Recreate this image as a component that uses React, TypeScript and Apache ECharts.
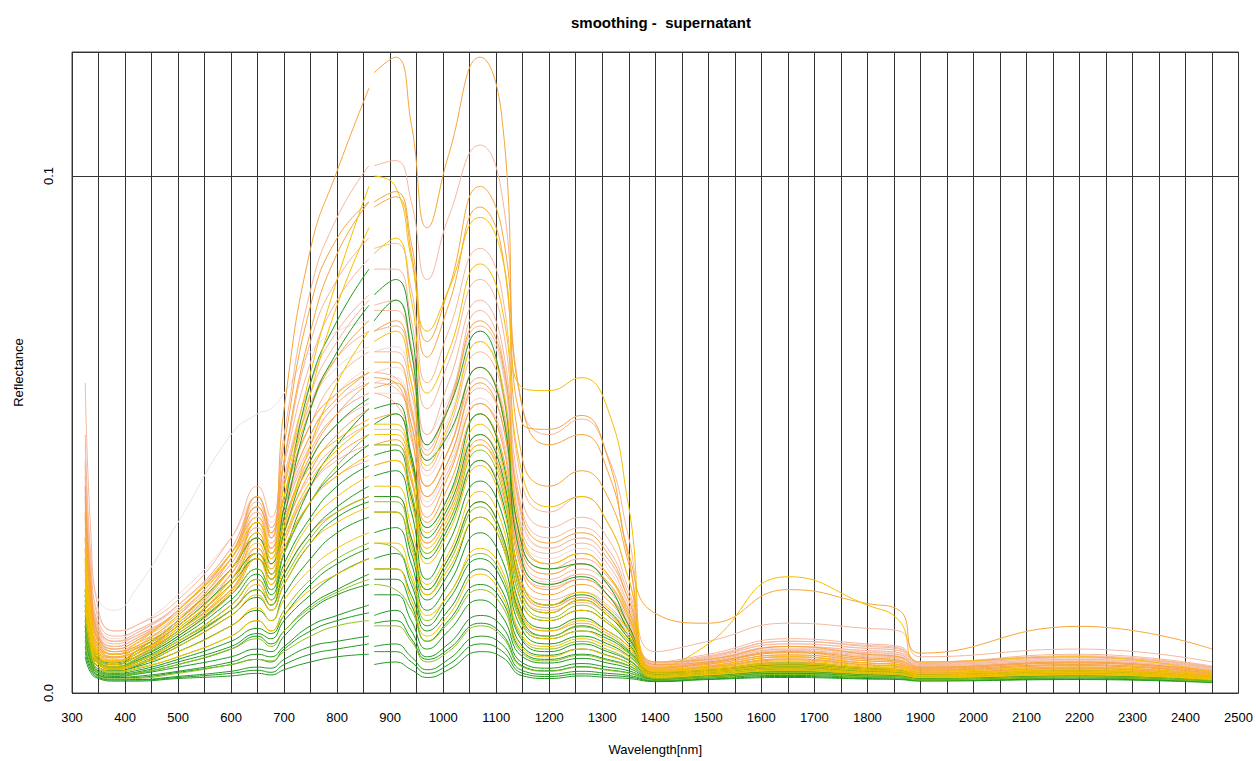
import React, { useEffect, useRef } from "react";
import * as echarts from "echarts";

const WAVELENGTHS = [325, 335, 350, 380, 420, 500, 600, 650, 675, 700, 750, 800, 860, 870, 910, 940, 970, 1010, 1070, 1110, 1150, 1200, 1260, 1310, 1350, 1400, 1500, 1650, 1800, 1860, 1900, 2200, 2450];
// Detector splice: the curves are broken here
const SPLICE_NM = 865;
const SPLICE_AFTER_INDEX = 12;

const TITLE = "smoothing -  supernatant";
const X_NAME = "Wavelength[nm]";
const Y_NAME = "Reflectance";

// Reflectance values x 1000
const GREEN = [
  [7, 4, 2.8, 2.3, 2.3, 2.8, 3.3, 3.8, 3.5, 4.5, 6, 7, 7.5, 5.5, 6, 4.5, 3, 4.5, 8, 7, 3.3, 2.8, 3.3, 3, 2.8, 2.2, 2.6, 3, 2.7, 2.6, 2.3, 2.6, 2],
  [8, 4.5, 3, 2.5, 2.5, 3, 3.8, 4.4, 4, 5.5, 7.5, 8.5, 9.5, 8, 8, 6, 3.8, 5.5, 9.5, 8.2, 3.8, 3.2, 3.7, 3.4, 3.1, 2.3, 2.7, 3.2, 2.8, 2.7, 2.4, 2.7, 2.1],
  [9, 5, 3.2, 2.6, 2.6, 3.2, 4.2, 5, 4.8, 6.5, 9, 10, 11, 9, 9.5, 7, 4.5, 6.5, 11, 9.5, 4.3, 3.6, 4.2, 3.8, 3.4, 2.4, 2.9, 3.4, 3, 2.9, 2.5, 2.9, 2.2],
  [10, 5.5, 3.4, 2.9, 3, 4, 5.5, 6.5, 6, 8.5, 12, 14, 15.5, 13.5, 14, 10.5, 6.5, 8.5, 13.5, 11.5, 5.2, 4.3, 5.1, 4.5, 3.9, 2.5, 3, 3.6, 3.1, 3, 2.5, 3, 2.2],
  [11, 6, 3.5, 3, 3.2, 4.2, 6, 7.5, 7, 9, 13, 15, 17, 15, 16, 12, 7, 9.5, 15, 13, 5.8, 4.8, 5.7, 5, 4.3, 2.6, 3.1, 3.8, 3.3, 3.1, 2.6, 3.1, 2.3],
  [13, 7, 4, 3.4, 3.8, 5.5, 8.5, 11, 9.5, 12, 17, 20, 23, 22, 22, 17, 10, 14, 21, 18, 8, 6.5, 7.5, 6.5, 5.3, 2.8, 3.3, 4.1, 3.5, 3.3, 2.8, 3.3, 2.4],
  [13, 7.5, 4.2, 3.6, 4, 6, 9, 11.5, 10.5, 14, 19, 23, 26, 24, 24, 19, 12, 16, 24, 20, 9, 7.3, 8.5, 7.3, 5.8, 2.9, 3.3, 4.2, 3.6, 3.4, 2.9, 3.3, 2.5],
  [14, 8, 4.5, 3.8, 4.3, 6.5, 10, 12.5, 11.5, 15, 21, 25, 28, 26, 27, 21, 13, 18, 26, 22, 10, 8, 9.5, 8, 6.3, 3, 3.4, 4.3, 3.7, 3.5, 2.9, 3.4, 2.5],
  [15, 9, 5, 4.2, 5, 8, 13, 16, 14, 19, 26, 31, 34, 31, 32, 25, 16, 21, 31, 26, 12, 9.5, 11, 9.5, 7.2, 3.2, 3.6, 4.6, 3.9, 3.7, 3, 3.5, 2.6],
  [16, 9.5, 5.5, 4.6, 5.5, 9.5, 16, 20, 17, 23, 31, 36, 40, 38, 38, 30, 20, 26, 37, 31, 14, 11, 13, 11, 8.2, 3.4, 3.8, 4.9, 4.1, 3.9, 3.1, 3.7, 2.7],
  [18, 10, 6, 5, 6.5, 11, 19, 24, 20, 27, 37, 43, 48, 46, 47, 38, 26, 32, 45, 38, 17, 14, 16, 13.5, 9.5, 3.6, 4, 5.1, 4.3, 4.1, 3.3, 3.9, 2.8],
  [20, 12, 7, 5.8, 8, 14, 24, 30, 25, 36, 60, 72, 82, 77, 80, 70, 48, 55, 70, 60, 28, 24, 25, 21, 13, 4, 4.5, 5.8, 4.8, 4.5, 3.6, 4.3, 3.1],
  [12, 6.5, 3.8, 3.2, 3.6, 5, 7, 8.5, 8, 11, 16, 19, 21, 19, 19, 14, 8.5, 12, 18, 15, 7, 5.8, 6.7, 5.8, 4.8, 2.7, 3.2, 3.9, 3.4, 3.2, 2.7, 3.2, 2.3],
  [17, 10, 5.8, 4.8, 6, 10, 17, 22, 18, 25, 34, 40, 44, 42, 43, 35, 22, 29, 41, 35, 15.5, 12.5, 14.5, 12, 9, 3.5, 3.9, 5, 4.2, 4, 3.2, 3.8, 2.8],
  [16, 9, 5, 4.3, 5.2, 9, 15, 18.5, 16, 21, 29, 34, 37, 35, 35, 27, 18, 23, 34, 29, 13, 10.5, 12, 10.5, 7.8, 3.3, 3.7, 4.8, 4, 3.8, 3.1, 3.6, 2.7],
  [19, 11, 6.5, 5.5, 7, 12, 21, 26, 22, 31, 45, 52, 57, 55, 56, 46, 32, 38, 54, 46, 21, 17, 19, 16, 11, 3.8, 4.2, 5.4, 4.5, 4.3, 3.4, 4.1, 3],
  [17, 10, 6, 5, 6.2, 10.5, 18, 23, 19, 27, 40, 48, 55, 52, 54, 45, 30, 36, 50, 43, 19, 15.5, 18, 15, 10.5, 3.7, 4.1, 5.3, 4.4, 4.2, 3.3, 4, 2.9],
  [19, 11, 6.5, 5.5, 7.5, 13, 22, 27, 23, 34, 55, 66, 75, 72, 76, 66, 45, 50, 63, 55, 25, 21, 22.5, 19, 12, 3.9, 4.3, 5.6, 4.6, 4.4, 3.5, 4.2, 3],
];

const YELLOW_GREEN = [
  [10, 5.5, 3.2, 2.7, 2.8, 3.8, 5.5, 6.5, 6.2, 8, 11, 13, 14, 13, 13, 10, 6, 8, 13, 11, 5, 4.2, 5, 4.4, 3.8, 2.5, 3, 3.6, 3.1, 3, 2.5, 3, 2.2],
  [12, 7, 4, 3.4, 3.8, 5.5, 8.5, 10.5, 9, 12, 16.5, 19.5, 22, 21, 20, 16, 10, 13.5, 20, 17, 7.6, 6.2, 7.3, 6.3, 5.2, 2.8, 3.2, 4, 3.4, 3.2, 2.7, 3.2, 2.4],
  [14, 8, 4.6, 4, 4.6, 7, 11, 14, 12, 16, 22, 26, 29, 29, 28, 22, 14, 19, 27, 23, 10.5, 8.5, 10, 8.4, 6.5, 3.1, 3.5, 4.4, 3.8, 3.6, 3, 3.5, 2.6],
  [17, 10, 5.6, 4.7, 5.8, 10, 16, 20, 17, 22, 30, 35, 38, 37, 37, 29, 19, 25, 36, 30, 13.5, 11, 12.8, 11, 8, 3.4, 3.8, 4.8, 4.1, 3.9, 3.1, 3.7, 2.7],
  [20, 11, 6.2, 5.2, 6.5, 11.5, 19, 24, 20, 27, 37, 44, 50, 48, 48, 39, 27, 33, 47, 40, 18, 14.5, 17, 14, 10, 3.7, 4.1, 5.2, 4.4, 4.2, 3.3, 4, 2.9],
];

const GOLD = [
  [16, 9, 5, 4.2, 4.8, 7, 11, 14, 12, 15, 20, 23, 26, 24, 24, 18, 11, 15, 23, 19, 8.5, 7, 8.5, 7.2, 5.8, 3, 3.5, 4.3, 3.7, 3.5, 3, 3.5, 2.6],
  [19, 10.5, 5.8, 4.8, 5.5, 8, 13, 16.5, 14, 18, 24, 28, 31, 29, 29, 23, 15, 19, 28, 24, 11, 9, 10.5, 9, 7, 3.2, 3.6, 4.5, 3.9, 3.7, 3, 3.6, 2.6],
  [22, 12, 6.5, 5.5, 7, 12, 20, 26, 21, 28, 37, 42, 46, 44, 45, 37, 25, 31, 44, 37, 17, 14, 16, 13.5, 10, 3.8, 4.2, 5.3, 4.5, 4.3, 3.4, 4, 2.9],
  [25, 13.5, 7.2, 6, 7.5, 12.5, 21, 27, 22, 30, 41, 47, 52, 50, 50, 42, 28, 34, 48, 41, 19, 15.5, 18, 15, 11, 4, 4.4, 5.6, 4.7, 4.5, 3.5, 4.2, 3],
  [26, 14, 7.5, 6.2, 8, 14, 24, 31, 24, 33, 44, 49, 53, 52, 52, 44, 31, 37, 52, 45, 21, 17, 19.5, 16.5, 12, 4.2, 4.6, 5.8, 4.9, 4.6, 3.7, 4.3, 3.1],
  [30, 16, 9, 7.5, 9.5, 16, 27, 34, 27, 40, 62, 80, 98, 100, 98, 84, 70, 78, 92, 85, 59, 58.5, 61, 55, 36, 4.5, 9.5, 22.5, 17, 14, 6, 7, 4],
  [24, 13, 7, 6, 7.5, 13, 22, 29, 23, 32, 48, 60, 70, 68, 70, 60, 44, 52, 68, 60, 30, 25, 27, 23, 15, 4.2, 4.8, 6.2, 5.2, 4.9, 3.8, 4.5, 3.2],
  [28, 15, 8, 6.8, 8.8, 15, 26, 33, 26, 38, 58, 75, 90, 85, 88, 76, 58, 66, 83, 75, 42, 36, 38, 33, 22, 4.4, 5.2, 7, 5.8, 5.4, 4.2, 5, 3.5],
  [20, 11, 6, 5, 6, 10, 17, 22, 18, 24, 33, 38, 42, 40, 40, 32, 21, 27, 39, 33, 15, 12, 14, 12, 9, 3.5, 4, 5, 4.3, 4.1, 3.3, 3.9, 2.8],
  [18, 10, 5.5, 4.6, 5.5, 9, 15, 19, 16, 21, 29, 33, 36, 35, 35, 28, 19, 24, 34, 29, 13, 10.5, 12, 10, 7.6, 3.3, 3.8, 4.7, 4, 3.8, 3.1, 3.7, 2.7],
];

const ORANGE = [
  [40, 22, 11, 8, 9, 14, 26, 36, 30, 55, 86, 101, 117, 120, 123, 110, 90, 104, 123, 112, 52, 51, 53.7, 45.6, 27, 15.4, 13.5, 20, 17.3, 16, 7.7, 12.9, 8.5],
  [35, 19, 10, 7.5, 8.5, 13, 23, 33, 28, 45, 70, 85, 95, 94, 96, 85, 65, 75, 94, 86, 45, 40, 43, 38, 25, 6, 6.5, 9, 7.5, 7, 5, 6, 4.2],
  [30, 16, 9, 7, 8, 12, 21, 30, 25, 38, 55, 65, 72, 70, 72, 63, 46, 55, 72, 65, 34, 29, 31, 27, 18, 5, 5.8, 7.8, 6.5, 6.1, 4.6, 5.5, 3.8],
  [26, 14, 7.8, 6.3, 7.5, 12, 20, 28, 23, 33, 46, 54, 60, 59, 60, 52, 38, 45, 60, 53, 27, 23, 25, 21.5, 14.5, 4.6, 5.2, 7, 5.8, 5.5, 4.2, 5, 3.5],
  [24, 13, 7.3, 6, 7, 11.5, 19.5, 27, 22, 31, 43, 50, 55, 53, 54, 46, 33, 40, 54, 47, 23, 19, 21, 18, 12.5, 4.3, 4.9, 6.4, 5.4, 5.1, 3.9, 4.7, 3.3],
  [34, 18, 9.5, 7.5, 8.6, 13.5, 24, 33, 27, 38, 52, 58, 62, 64, 64, 55, 40, 47, 63, 56, 29, 25, 27, 23, 16, 4.8, 5.6, 7.4, 6.2, 5.8, 4.4, 5.3, 3.7],
  [22, 12, 6.8, 5.5, 6.8, 11, 19, 26, 21, 29, 40, 46, 50, 48, 49, 41, 29, 35, 49, 42, 20, 16.5, 18.5, 15.5, 11, 4, 4.6, 6, 5, 4.8, 3.8, 4.5, 3.2],
  [38, 21, 11, 8.5, 10, 16, 27, 38, 31, 48, 75, 88, 95, 95, 97, 87, 68, 78, 98, 90, 55, 48, 50, 43, 26, 5.5, 6, 8, 6.8, 6.4, 4.8, 5.8, 4],
  [28, 15, 8.5, 6.8, 8, 12.5, 22, 31, 26, 36, 50, 57, 62, 61, 60, 50, 34, 42, 56, 49, 24, 20, 22, 19, 13, 4.4, 5, 6.6, 5.5, 5.2, 4, 4.8, 3.4],
  [20, 11, 6.2, 5, 6, 9.5, 16, 21, 17, 23, 31, 35, 38, 38, 38, 30, 20, 26, 37, 31, 14.5, 12, 13.5, 11.5, 8.5, 3.6, 4.3, 5.5, 4.7, 4.5, 3.5, 4.2, 3],
];

const SALMON = [
  [60, 32, 16, 12, 13, 18, 30, 40, 34, 50, 78, 92, 102, 102, 103, 95, 80, 92, 106, 97, 55, 50, 53, 46, 30, 8, 10, 13.5, 12.5, 12, 7, 8.5, 6],
  [50, 27, 14, 11, 12, 17, 28, 38, 32, 45, 68, 80, 88, 86, 87, 78, 60, 70, 86, 78, 40, 35, 38, 33, 22, 6, 7.5, 10.5, 9.5, 9, 6, 7.5, 5.2],
  [45, 24, 13, 10, 11, 16, 27, 37, 31, 42, 60, 70, 77, 75, 76, 67, 50, 60, 76, 68, 35, 30, 32, 28, 19, 5.6, 7, 10, 9, 8.5, 5.8, 7, 5],
  [42, 22, 12, 9.5, 11, 16, 27, 36, 30, 40, 56, 65, 70, 70, 71, 63, 47, 56, 71, 64, 31, 27, 29, 25, 17, 5.3, 6.5, 9, 8.2, 7.8, 5.5, 6.5, 4.8],
  [38, 20, 11, 9, 10.5, 15.5, 26, 35, 29, 38, 52, 61, 66, 66, 66, 58, 43, 51, 66, 59, 28, 24, 26, 22.5, 15.5, 5, 6.2, 8.5, 7.8, 7.4, 5.3, 6.2, 4.6],
  [35, 19, 10.5, 8.5, 10, 15, 25, 34, 28, 36, 48, 56, 60, 62, 61, 54, 40, 47, 61, 55, 26, 22, 24, 21, 14.5, 4.8, 6, 8.2, 7.4, 7, 5.1, 6, 4.4],
  [34, 18, 10, 8, 9.5, 14.5, 24, 32, 27, 35, 47, 54, 58, 60, 59, 52, 38, 45, 59, 53, 25, 21, 23, 20, 14, 4.7, 5.9, 8, 7.2, 6.9, 5, 5.9, 4.3],
  [40, 21, 11.5, 9, 10.5, 16, 27, 36, 31, 41, 58, 68, 76, 74, 74, 66, 48, 56, 74, 66, 33, 28, 30, 26, 18, 5.4, 6.8, 9.5, 8.6, 8.2, 5.7, 6.8, 4.9],
  [32, 17, 10, 8, 9.5, 14, 24, 32, 27, 34, 45, 52, 56, 58, 56, 49, 36, 43, 56, 50, 24, 20.5, 22, 19, 13.5, 4.6, 5.8, 7.8, 7, 6.7, 4.9, 5.8, 4.3],
  [44, 23, 12.5, 10, 11.5, 17, 28, 38, 32, 44, 64, 76, 84, 82, 82, 72, 55, 64, 80, 72, 37, 32, 34, 30, 20, 5.8, 7.2, 10, 9.2, 8.7, 6, 7.2, 5.1],
  [30, 16, 9, 7.5, 9, 13.5, 23, 30, 25, 32, 42, 48, 52, 51, 51, 44, 32, 38, 50, 44, 21, 18, 19.5, 17, 12, 4.4, 5.5, 7.3, 6.6, 6.3, 4.7, 5.5, 4.1],
  [28, 15, 8.5, 7, 8.5, 13, 22, 28, 24, 30, 40, 45, 48, 48, 48, 41, 29, 35, 48, 42, 20, 17, 18.5, 16, 11.5, 4.3, 5.3, 7, 6.2, 6, 4.5, 5.3, 3.9],
  [26, 14, 8, 6.5, 7.5, 12, 20, 26, 22, 28, 37, 42, 45, 44, 45, 38, 27, 33, 45, 39, 19, 16, 17.5, 15, 10.5, 4.1, 5, 6.6, 5.8, 5.6, 4.3, 5, 3.6],
];

const PALE = [
  [48, 26, 15, 12, 13, 19, 30, 38, 33, 42, 56, 63, 67, 66, 67, 60, 45, 53, 68, 61, 30, 26, 28, 24, 16.5, 5.4, 7, 9.5, 8.7, 8.2, 5.8, 7, 5],
  [36, 19, 11, 9, 10.5, 15.5, 25, 33, 28, 35, 47, 54, 58, 58, 58, 51, 37, 44, 57, 51, 25, 21.5, 23, 20, 14, 4.8, 6.2, 8.4, 7.6, 7.2, 5.2, 6.2, 4.5],
  [40, 21, 12, 10, 11.5, 16.5, 26, 34, 29, 36, 49, 56, 61, 60, 61, 54, 40, 47, 61, 55, 27, 23, 25, 21.5, 15, 5, 6.4, 8.7, 7.9, 7.5, 5.4, 6.4, 4.6],
  [42, 22, 13, 10.5, 12, 17, 27, 35, 30, 37, 50, 58, 63, 62, 63, 56, 42, 49, 63, 57, 28, 24, 26, 22.5, 15.5, 5.1, 6.6, 9, 8.1, 7.7, 5.5, 6.5, 4.7],
];

const WHITISH = [
  [45, 26, 18, 16, 20, 33, 50, 54, 55, 58, 66, 70, 72, 70, 71, 63, 50, 57, 70, 63, 32, 28, 30, 26, 18, 5.2, 6.6, 9, 8.2, 7.8, 5.6, 6.6, 4.8],
];

const COLORS = {
  green: "#1f9a1f",
  yellowGreen: "#8fc21c",
  gold: "#f5c000",
  orange: "#f7a53c",
  salmon: "#f5b79c",
  pale: "#f6d6d0",
  whitish: "#ebe4e4",
};

const GROUPS: [number[][], string][] = [
  [WHITISH, COLORS.whitish],
  [PALE, COLORS.pale],
  [SALMON, COLORS.salmon],
  [ORANGE, COLORS.orange],
  [GREEN, COLORS.green],
  [YELLOW_GREEN, COLORS.yellowGreen],
  [GOLD, COLORS.gold],
];

function toData(row: number[]) {
  const out: any[] = [];
  row.forEach((v, i) => {
    out.push([WAVELENGTHS[i], v / 1000]);
    if (i === SPLICE_AFTER_INDEX) out.push([SPLICE_NM, "-"]);
  });
  return out;
}

const FONT = "'Liberation Sans', Arial, sans-serif";

export default function App() {
  const ref = useRef<HTMLDivElement>(null);
  useEffect(() => {
    if (!ref.current) return;
    const chart = echarts.init(ref.current, undefined, { renderer: "svg" });
    const series: any[] = [];
    GROUPS.forEach(([rows, color]) => {
      rows.forEach((row) => {
        series.push({
          type: "line",
          data: toData(row),
          xAxisIndex: 0,
          yAxisIndex: 0,
          showSymbol: false,
          symbol: "none",
          smooth: 0.5,
          connectNulls: false,
          silent: true,
          lineStyle: { color, width: 1 },
        });
      });
    });
    chart.setOption({
      animation: false,
      backgroundColor: "#ffffff",
      title: {
        text: TITLE,
        left: 656,
        top: 10,
        textAlign: "center",
        textStyle: { fontFamily: FONT, fontSize: 15, fontWeight: "bold", color: "#000" },
      },
      grid: {
        left: 72,
        right: 16,
        top: 52,
        bottom: 64,
        show: true,
        borderColor: "#444",
        borderWidth: 1,
        backgroundColor: "transparent",
      },
      xAxis: [
        {
          type: "value",
          min: 300,
          max: 2500,
          interval: 100,
          name: X_NAME,
          nameLocation: "middle",
          nameGap: 50,
          nameTextStyle: { fontFamily: FONT, fontSize: 13, color: "#000" },
          axisLine: { show: false },
          axisTick: { show: false },
          splitLine: { show: false },
          axisLabel: {
            fontFamily: FONT,
            fontSize: 13,
            color: "#000",
            margin: 18,
            formatter: (v: number) => String(v),
          },
        },
        {
          type: "value",
          min: 300,
          max: 2500,
          interval: 50,
          position: "bottom",
          axisLine: { show: false },
          axisTick: { show: false },
          axisLabel: { show: false },
          splitLine: { show: true, lineStyle: { color: "#333", width: 1 } },
        },
      ],
      yAxis: {
        type: "value",
        min: 0,
        max: 0.124,
        interval: 0.1,
        name: Y_NAME,
        nameLocation: "middle",
        nameGap: 47,
        nameTextStyle: { fontFamily: FONT, fontSize: 13, color: "#000" },
        axisLine: { show: false },
        axisTick: { show: false },
        splitLine: { show: true, lineStyle: { color: "#333", width: 1 } },
        axisLabel: {
          fontFamily: FONT,
          fontSize: 13,
          color: "#000",
          rotate: 90,
          margin: 17,
          showMaxLabel: false,
          formatter: (v: number) => v.toFixed(1),
        },
      },
      series,
    });
    return () => chart.dispose();
  }, []);
  return (
    <div
      ref={ref}
      style={{ position: "absolute", left: 0, top: 0, width: 1256, height: 761 }}
    />
  );
}
